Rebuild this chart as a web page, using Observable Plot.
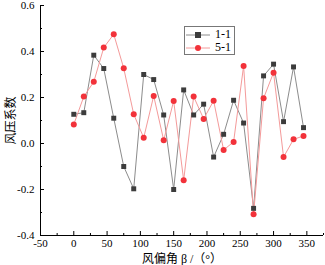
<!DOCTYPE html>
<html><head><meta charset="utf-8">
<script src="https://cdn.jsdelivr.net/npm/d3@7"></script>
<script src="https://cdn.jsdelivr.net/npm/@observablehq/plot@0.6"></script>
<style>
body{margin:0;background:#fff;}
#wrap{position:relative;width:325px;height:265px;}
.lg{position:absolute;left:184px;top:26px;width:51px;height:29px;border:1px solid #777;background:#fff;font:12px/13px "Liberation Serif",serif;box-sizing:border-box;padding-top:1px;}
.lg div{display:flex;align-items:center;height:13px;}
.lg span{margin-left:4px;}
</style>
</head><body><div id="wrap"></div>
<script>
const angles = [0,15,30,45,60,75,90,105,120,135,150,165,180,195,210,225,240,255,270,285,300,315,330,345];
const s11 = [0.127,0.134,0.384,0.326,0.110,-0.100,-0.197,0.300,0.278,0.124,-0.200,0.233,0.124,0.171,-0.059,0.040,0.188,0.089,-0.282,0.294,0.345,0.095,0.333,0.069];
const s51 = [0.083,0.204,0.268,0.417,0.475,0.327,0.127,0.025,0.207,0.014,0.185,-0.160,0.204,0.107,0.186,-0.028,0.007,0.337,-0.308,0.197,0.308,-0.059,0.018,0.033];
const seriesNames = ["1-1","5-1"];
const xTicks = [-50,0,50,100,150,200,250,300,350];
const xMinor = [-25,25,75,125,175,225,275,325,375];
const yTicks = [-0.4,-0.2,0,0.2,0.4,0.6];
const yMinor = [-0.3,-0.1,0.1,0.3,0.5];

const d11 = angles.map((a,i)=>({a, v:s11[i]}));
const d51 = angles.map((a,i)=>({a, v:s51[i]}));
const font = '"Liberation Serif","Noto Sans CJK SC",serif';

const chart = Plot.plot({
  width:325, height:265,
  marginLeft:40, marginRight:2, marginTop:5, marginBottom:30,
  style:{fontFamily:font, fontSize:"11px", background:"#fff", color:"#000"},
  x:{domain:[-50,375]},
  y:{domain:[-0.4,0.6]},
  marks:[
    Plot.axisX({ticks:xTicks, tickSize:-4, tickPadding:8, tickFormat:d=>String(d), label:"风偏角 β /（°）", labelAnchor:"center", labelOffset:27, labelArrow:"none", fontSize:11}),
    Plot.axisX({ticks:xMinor, tickSize:-2, tickFormat:()=>"", label:null}),
    Plot.axisY({ticks:yTicks, tickSize:-4, tickPadding:10, tickFormat:d=>d.toFixed(1), label:"风压系数", labelAnchor:"center", labelOffset:34, labelArrow:"none", fontSize:11}),
    Plot.axisY({ticks:yMinor, tickSize:-2, tickFormat:()=>"", label:null}),
    Plot.ruleY([-0.4], {stroke:"#000"}),
    Plot.ruleX([-50], {stroke:"#000"}),
    Plot.line(d11, {x:"a", y:"v", stroke:"#8c8c8c", strokeWidth:1}),
    Plot.line(d51, {x:"a", y:"v", stroke:"#f49a9a", strokeWidth:1}),
    Plot.dot(d11, {x:"a", y:"v", symbol:"square", r:2.8, fill:"#3c3c3c", stroke:"none"}),
    Plot.dot(d51, {x:"a", y:"v", symbol:"circle", r:3, fill:"#f2323a", stroke:"none"})
  ]
});
const wrap = document.getElementById("wrap");
wrap.appendChild(chart);
chart.querySelectorAll('[aria-label="x-axis label"] text, [aria-label="y-axis label"] text').forEach(t=>t.style.fontSize="12px");

const lg = document.createElement("div");
lg.className = "lg";
const styles = [{line:"#8c8c8c", fill:"#3c3c3c", sq:true},{line:"#f49a9a", fill:"#f2323a", sq:false}];
seriesNames.forEach((n,i)=>{
  const st = styles[i];
  const row = document.createElement("div");
  const mk = st.sq ? `<rect x="10" y="3" width="6" height="6" fill="${st.fill}"/>` : `<circle cx="13" cy="6" r="3" fill="${st.fill}"/>`;
  row.innerHTML = `<svg width="26" height="12"><line x1="1" y1="6" x2="25" y2="6" stroke="${st.line}"/>${mk}</svg><span>${n}</span>`;
  lg.appendChild(row);
});
wrap.appendChild(lg);
</script>
</body></html>
